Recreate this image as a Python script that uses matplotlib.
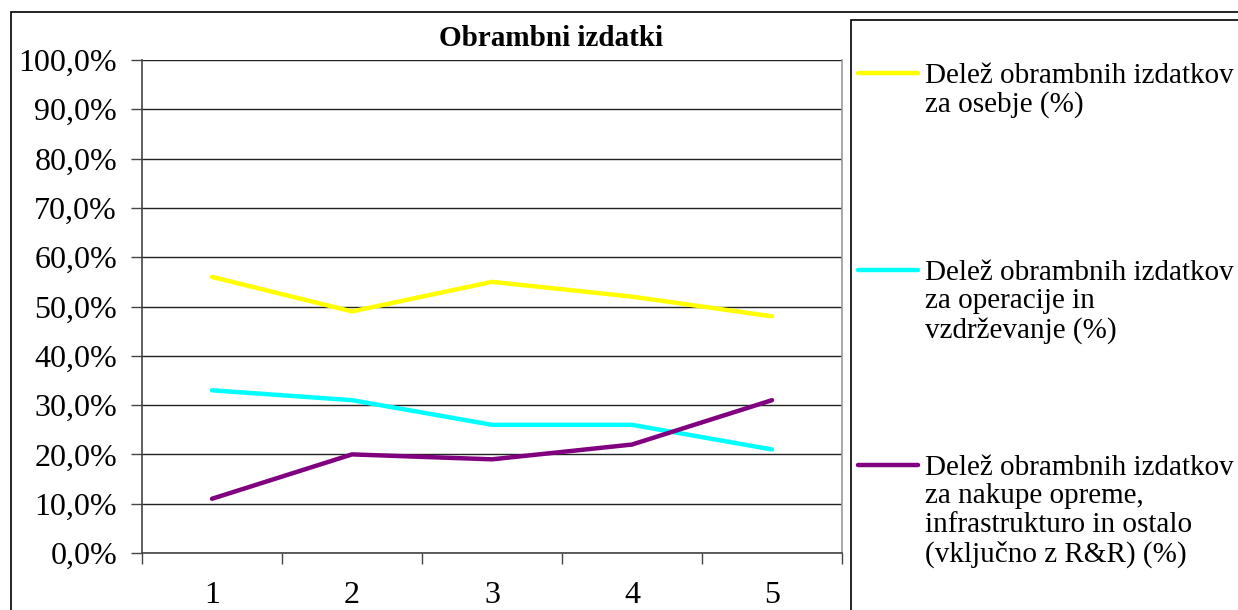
import matplotlib.pyplot as plt
from matplotlib.lines import Line2D
from matplotlib.patches import Rectangle
from matplotlib.ticker import FuncFormatter, FixedLocator

plt.rcParams['font.family'] = ['Liberation Serif', 'DejaVu Serif']

# Data (shares of defence spending, %)
years = [1, 2, 3, 4, 5]
personnel = [56, 49, 55, 52, 48]
operations = [33, 31, 26, 26, 21]
equipment = [11, 20, 19, 22, 31]

series_labels = [
    'Delež obrambnih izdatkov\nza osebje (%)',
    'Delež obrambnih izdatkov\nza operacije in\nvzdrževanje (%)',
    'Delež obrambnih izdatkov\nza nakupe opreme,\ninfrastrukturo in ostalo\n(vključno z R&R) (%)',
]
series_colors = ['#FFFF00', '#00FFFF', '#800080']
title = 'Obrambni izdatki'

W, H = 1238, 610
fig = plt.figure(figsize=(W / 100, H / 100), dpi=100)
fig.patch.set_facecolor('white')

def fx(px):
    return px / W

def fy(py):
    return 1 - py / H

# outer chart border and legend frame (both run off the edge)
fig.patches.append(Rectangle((fx(11), fy(700)), fx(1400), fy(12) - fy(700),
                             transform=fig.transFigure, fill=False,
                             edgecolor='black', linewidth=1.2))
fig.patches.append(Rectangle((fx(851), fy(700)), fx(400), fy(20) - fy(700),
                             transform=fig.transFigure, fill=False,
                             edgecolor='black', linewidth=1.2))

ax = fig.add_axes([fx(142), fy(553), fx(842) - fx(142), fy(60) - fy(553)])
ax.set_facecolor('white')

for vals, col in zip([personnel, operations, equipment], series_colors):
    ax.plot(years, vals, color=col, linewidth=3.2, solid_capstyle='round')

ax.set_xlim(0.5, 5.5)
ax.set_ylim(0, 100)
ax.set_yticks(range(0, 101, 10))
ax.yaxis.set_major_formatter(FuncFormatter(lambda v, p: f'{v:.1f}%'.replace('.', ',')))
ax.grid(axis='y', color='#222222', linewidth=1.0)
ax.set_axisbelow(True)

# category axis: ticks between categories, labels centred
ax.xaxis.set_major_locator(FixedLocator([0.5, 1.5, 2.5, 3.5, 4.5, 5.5]))
ax.xaxis.set_minor_locator(FixedLocator(years))
ax.set_xticklabels([])
ax.set_xticklabels([str(y) for y in years], minor=True)
ax.tick_params(axis='x', which='major', length=8, width=1, color='#444444', direction='out')
ax.tick_params(axis='x', which='minor', length=0, pad=20, labelsize=23)
ax.tick_params(axis='y', length=8, width=1, color='#444444', pad=10, labelsize=23)

ax.spines['top'].set_visible(False)
ax.spines['left'].set_color('#444444')
ax.spines['bottom'].set_color('#444444')
ax.spines['right'].set_color('#999999')
for s in ax.spines.values():
    s.set_linewidth(1.2)

fig.text(fx(551), fy(38), title, ha='center', va='center',
         fontsize=21, fontweight='bold')

# legend entries drawn by hand
entry_y = [73, 270, 465]
for lbl, col, yy in zip(series_labels, series_colors, entry_y):
    fig.lines.append(Line2D([fx(858), fx(918)], [fy(yy), fy(yy)],
                            transform=fig.transFigure, color=col,
                            linewidth=3.2, solid_capstyle='round'))
    fig.text(fx(925), fy(yy - 10), lbl, ha='left', va='top', fontsize=21,
             linespacing=1.12)

fig.savefig('out.png', dpi=100)
